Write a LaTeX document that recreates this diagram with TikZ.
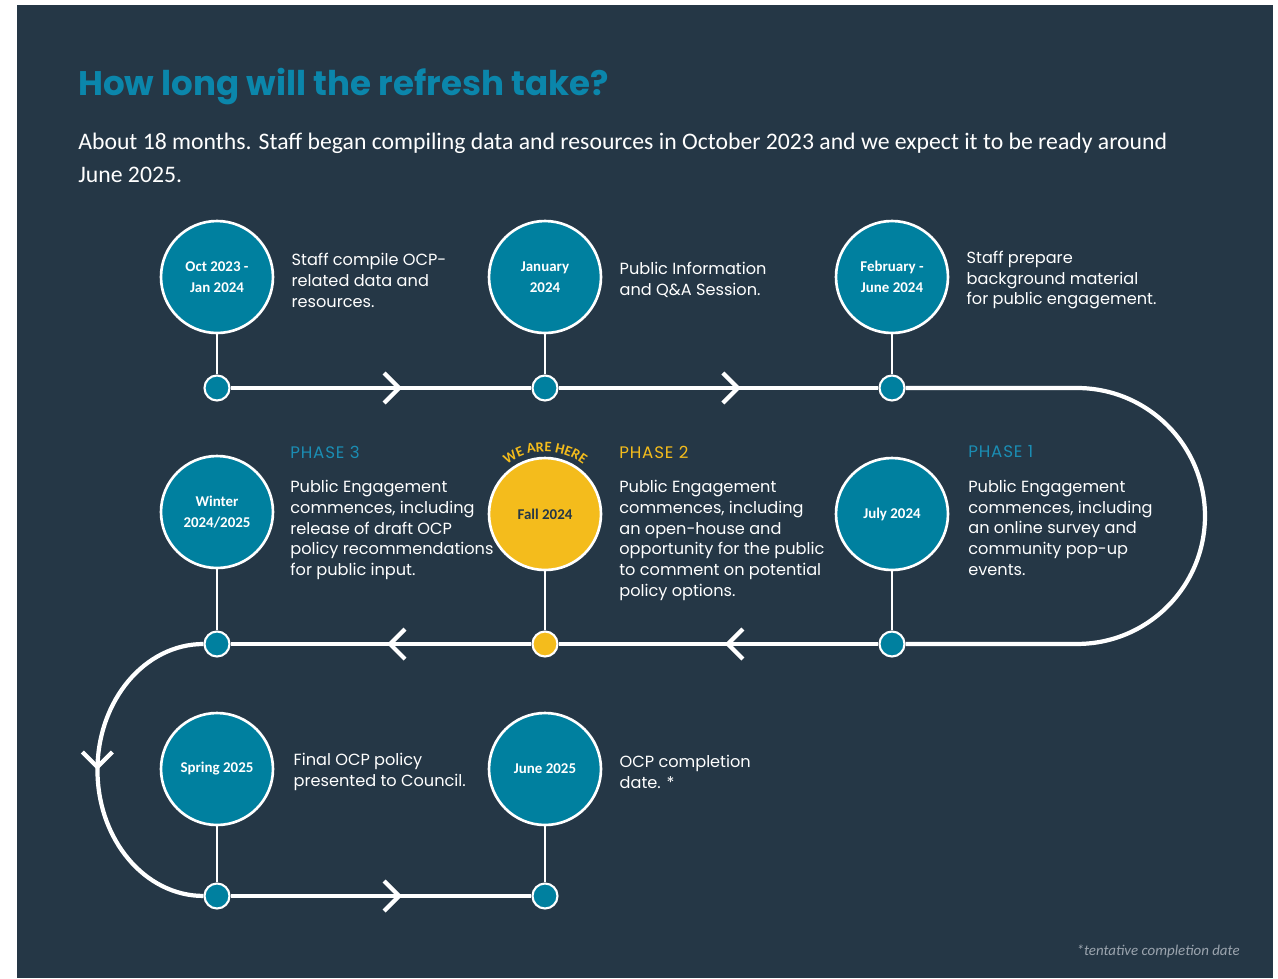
\documentclass[tikz,border=0pt]{standalone}
\usepackage{fontspec}
\setmainfont{Carlito}
\newfontfamily\bodyfont{Poppins}
\newfontfamily\titlefont{Poppins}
\newfontfamily\phasefont[LetterSpace=5]{Poppins}
\usepackage{tikz}
\usetikzlibrary{positioning}
\usetikzlibrary{arrows.meta}
\usetikzlibrary{decorations.markings,decorations.text}
\tikzset{>={Straight Barb[width=6mm,length=3mm]}}
\tikzset{midarrow/.style={postaction={decorate,decoration={markings,mark=at position #1 with {\arrow{>}}}}}}
\definecolor{navy}{HTML}{253746}
\definecolor{teal}{HTML}{00809F}
\definecolor{sun}{HTML}{F4BC1C}
\definecolor{titleblue}{HTML}{0B86AB}
\definecolor{phaseblue}{HTML}{1B8DB3}
\definecolor{footgrey}{HTML}{9BA4AE}

\begin{document}
\begin{tikzpicture}[x=0.02cm, y=-0.02cm]
          \tikzstyle{stage} = [circle, draw=white, line width=1.5pt, fill=teal, minimum size=2.24cm, inner sep=0pt, text=white, align=center, font=\bfseries\fontsize{8.5}{11.9}\selectfont]
          \tikzstyle{dot} = [circle, draw=white, line width=1.2pt, fill=teal, minimum size=0.5cm, inner sep=0pt]
          \tikzstyle{desc} = [inner sep=0pt, align=left, text=white, font=\bodyfont\fontsize{9.2}{11.9}\selectfont]
          \tikzstyle{phase} = [inner sep=0pt, anchor=west, text=phaseblue, font=\phasefont\fontsize{9.5}{11}\selectfont]
          \tikzstyle{flow} = [draw=white, line width=2.4pt]
          \tikzstyle{stem} = [draw=white, line width=1.1pt]
          \useasboundingbox (0,0) rectangle (1278,978);
          \fill[white] (0,0) rectangle (1278,978);
          \fill[navy] (17,5) rectangle (1273,978);

          % heading
          \node[anchor=base west, inner sep=0pt, text=titleblue, font=\titlefont\bfseries\fontsize{19.4}{22}\selectfont] (title) at (78,95) {How long will the refresh take?};
          \node[anchor=north west, inner sep=0pt, align=left, text=white, font=\fontsize{13.5}{18.7}\selectfont] (intro) at (78,133) {About 18 months. Staff began compiling data and resources in October 2023 and we expect it to be ready around\\June 2025.};

          % stages
          \node[stage] (octjan) at (217,277) {Oct 2023 -\\Jan 2024};
          \node[stage] (jan) at (545,277) {January\\2024};
          \node[stage] (febjune) at (892,277) {February -\\June 2024};
          \node[stage] (july) at (892,514) {July 2024};
          \node[stage, fill=sun, text=navy] (fall) at (545,514) {Fall 2024};
          \node[stage] (winter) at (217,512) {Winter\\2024/2025};
          \node[stage] (spring) at (217,769) {Spring 2025};
          \node[stage] (june) at (545,769) {June 2025};

          \node[dot] (d1) at (217,388) {};
          \node[dot] (d2) at (545,388) {};
          \node[dot] (d3) at (892,388) {};
          \node[dot] (d4) at (892,644) {};
          \node[dot, fill=sun] (d5) at (545,644) {};
          \node[dot] (d6) at (217,644) {};
          \node[dot] (d7) at (217,896) {};
          \node[dot] (d8) at (545,896) {};

          % texts
          \node[desc, right=0.34cm of octjan, yshift=-0.06cm] (t1) {Staff compile OCP-\\related data and\\resources.};
          \node[desc, right=0.34cm of jan, yshift=-0.06cm] (t2) {Public Information\\and Q\&A Session.};
          \node[desc, right=0.34cm of febjune, yshift=-0.06cm] (t3) {Staff prepare\\background material\\for public engagement.};
          \node[phase] (p1) at (968,452) {PHASE 1};
          \node[phase, text=sun] (p2) at (619,452) {PHASE 2};
          \node[phase] (p3) at (290,452) {PHASE 3};
          \node[desc, below=0.42cm of p1.south west, anchor=north west] (t4) {Public Engagement\\commences, including\\an online survey and\\community pop-up\\events.};
          \node[desc, below=0.42cm of p2.south west, anchor=north west] (t5) {Public Engagement\\commences, including\\an open-house and\\opportunity for the public\\to comment on potential\\policy options.};
          \node[desc, below=0.42cm of p3.south west, anchor=north west] (t6) {Public Engagement\\commences, including\\release of draft OCP\\policy recommendations\\for public input.};
          \node[desc, right=0.38cm of spring, yshift=-0.05cm] (t7) {Final OCP policy\\presented to Council.};
          \node[desc, right=0.34cm of june, yshift=-0.05cm] (t8) {OCP completion\\date. *};

          \path[decorate, decoration={text along path, text align=center, text={|\bfseries\fontsize{8.2}{10}\selectfont\color{sun}|WE ARE HERE}}] (fall.center) ++(140:1.25cm) arc[start angle=140, end angle=40, radius=1.25cm];

          % timeline
          \draw[stem] (octjan) -- (d1);
          \draw[stem] (jan) -- (d2);
          \draw[stem] (febjune) -- (d3);
          \draw[stem] (july) -- (d4);
          \draw[stem] (fall) -- (d5);
          \draw[stem] (winter) -- (d6);
          \draw[stem] (spring) -- (d7);
          \draw[stem] (june) -- (d8);
          \draw[flow, midarrow=0.57] (d1) -- (d2);
          \draw[flow, midarrow=0.57] (d2) -- (d3);
          \draw[flow] (d3) -- ++(185,0) arc[start angle=90, end angle=-90, radius=2.56cm] -- (d4);
          \draw[flow, midarrow=0.48] (d4) -- (d5);
          \draw[flow, midarrow=0.48] (d5) -- (d6);
          \draw[flow, midarrow=0.5] (d6.west) arc[start angle=90, end angle=270, x radius=2.12cm, y radius=2.52cm];
          \draw[flow, midarrow=0.57] (d7) -- (d8);

          \node[anchor=base east, inner sep=0pt, text=footgrey, font=\itshape\fontsize{8.5}{10}\selectfont] (note) at (1240,955) {*tentative completion date};
        \end{tikzpicture}
\end{document}
